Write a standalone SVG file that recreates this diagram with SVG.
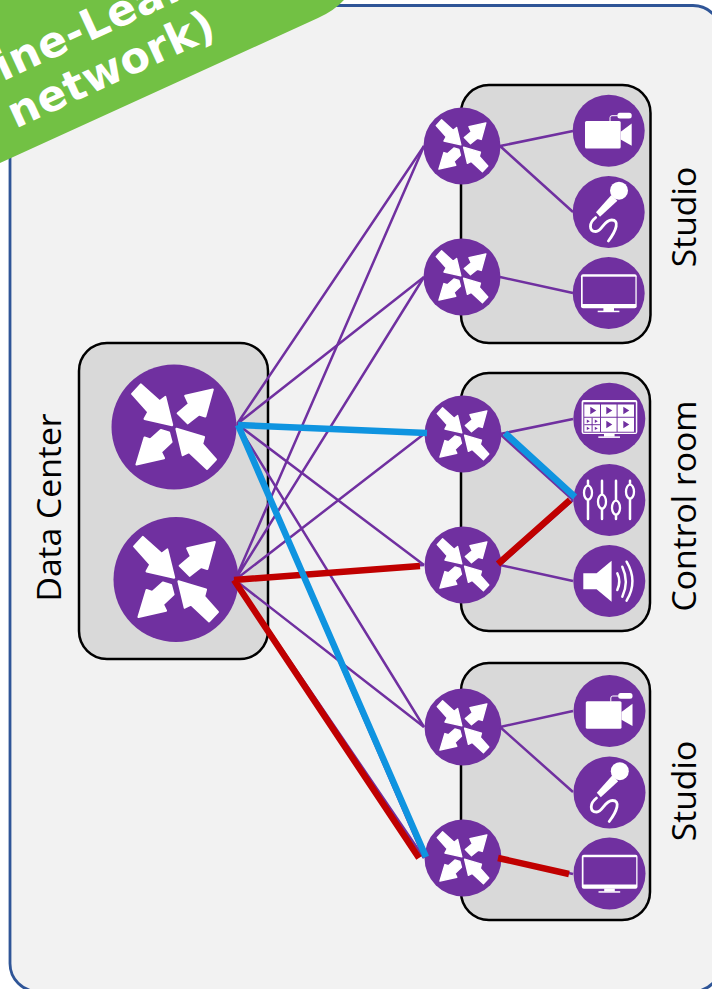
<svg xmlns="http://www.w3.org/2000/svg" width="712" height="989" viewBox="0 0 712 989">
<style>
.panel{fill:#D9D9D9;stroke:#000;stroke-width:2.5}
.disc{fill:#7030A0}
.arr{fill:#fff;stroke:#fff;stroke-width:3.500;stroke-linejoin:round}
.w{fill:#fff}
.ws{fill:none;stroke:#fff;stroke-linecap:round}
.p{fill:#7030A0}
.lbl{font-family:"Open Sans",sans-serif;font-size:33.700px;fill:#000}
.ttl{font-family:"DejaVu Sans",sans-serif;font-size:43px;font-weight:bold;fill:#fff;letter-spacing:.5px}
.c{stroke:#7030A0;stroke-width:2.5;fill:none}
.b{stroke:#0F94E0;stroke-width:6.500;fill:none}
.r{stroke:#C00000;stroke-width:6.500;fill:none}
</style>
<defs>
<g id="arrows" class="arr">
<polygon points="-67,-53 -53,-68 -23,-41 -14,-48 -3,-3 -47,-13 -41,-24"/>
<polygon points="62,-60 18,-50 24,-37 6,-22 22,-6 40,-20 50,-17"/>
<polygon points="-60,60 -16,50 -21,40 -4,24 -8,9 -21,5 -38,20 -47,17"/>
<polygon points="53,67 67,52 45,27 48,16 4,3 14,45 24,40"/>
</g>
<g id="router"><circle r="100" class="disc"/><use href="#arrows"/></g>
<g id="screen">
<circle r="36" class="disc"/>
<rect x="-27.7" y="-18.7" width="55.7" height="34" rx="2" class="w"/>
<rect x="-5.3" y="15" width="10.6" height="3" class="w"/>
<rect x="-11" y="17.7" width="21.7" height="1.5" class="w"/>
</g>
<g id="camera"><circle r="36" class="disc"/>
<rect x="-23.700" y="-9.700" width="35.700" height="27.400" rx="1.500" class="w"/>
<polygon points="12,1 23,-7.300 23,15 12,8.700" class="w"/>
<rect x="8.700" y="-18" width="14.300" height="5.700" rx="2.500" class="w"/>
<path d="M1.300,-9.700V-13q0,-2 2,-2H8.700" class="ws" stroke-width="1"/></g>
<g id="mic"><circle r="36" class="disc"/>
<circle cx="10.300" cy="-21.300" r="9" class="w"/>
<polygon points="2.700,-17 8.700,-11.300 -8.700,4.700 -12.700,.3" class="w"/>
<path d="M-13,5.500C-20,11 -20,19 -13,19.500C-7,20 -5,8 3,8C11,8 8,18 -.3,29" class="ws" stroke-width="2.800"/></g>
</defs>
<rect x="10" y="5.500" width="711" height="986" rx="28" fill="#F2F2F2" stroke="#2F5597" stroke-width="2.800"/>
<g id="banner">
<path d="M0,163 L318,18 Q338,9 348,-5 L0,-5 Z" fill="#72C144"/>
<g transform="rotate(-24.7 15 127)">
<text class="ttl" x="15" y="129">network)</text>
<text class="ttl" x="-60" y="80.500">(Spine-Leaf</text>
</g>
</g>
<g id="panel-dc"><rect class="panel" x="79" y="343" width="189" height="316" rx="28"/><text class="lbl" transform="translate(61 507.500) rotate(-90)" text-anchor="middle">Data Center</text></g>
<g id="panel-studio-1"><rect class="panel" x="461" y="85" width="189.500" height="258" rx="28"/><text class="lbl" transform="translate(696 217) rotate(-90)" text-anchor="middle">Studio</text></g>
<g id="panel-control"><rect class="panel" x="461" y="373" width="189" height="258" rx="28"/><text class="lbl" transform="translate(696 506) rotate(-90)" text-anchor="middle">Control room</text></g>
<g id="panel-studio-2"><rect class="panel" x="461" y="663" width="189" height="257" rx="28"/><text class="lbl" transform="translate(696 791) rotate(-90)" text-anchor="middle">Studio</text></g>
<g id="dc-router-1"><use href="#router" transform="translate(174 427) scale(.625)"/></g>
<g id="dc-router-2"><use href="#router" transform="translate(176 579.500) scale(.625)"/></g>
<g id="leaf-1"><use href="#router" transform="translate(462 146) scale(.385)"/></g>
<g id="leaf-2"><use href="#router" transform="translate(462 277) scale(.385)"/></g>
<g id="leaf-3"><use href="#router" transform="translate(463 434) scale(.385)"/></g>
<g id="leaf-4"><use href="#router" transform="translate(463 565) scale(.385)"/></g>
<g id="leaf-5"><use href="#router" transform="translate(463 727) scale(.385)"/></g>
<g id="leaf-6"><use href="#router" transform="translate(463 858) scale(.385)"/></g>
<g id="device-camera-1"><use href="#camera" x="608.700" y="130.700"/></g>
<g id="device-mic-1"><use href="#mic" x="608.700" y="212"/></g>
<g id="device-monitor-1"><use href="#screen" x="608.700" y="293"/><rect x="582.700" y="276.700" width="52.700" height="27.300" class="p"/></g>
<g id="device-wall" transform="translate(609.300 418.700)"><use href="#screen"/>
<rect x="-26" y="-16.500" width="52.500" height="30.500" class="p"/>
<path class="w" d="M-25,-14.300H-9.300V-2H-25ZM-8.300,-14.300H7.300V-2H-8.300ZM8.300,-14.300H24.700V-2H8.300ZM-25,-1H-9.300V13H-25ZM-8.300,-1H7.300V13H-8.300ZM8.300,-1H24.700V13H8.300Z"/>
<path class="p" d="M-19,-12V-4.500L-13,-8.200ZM-3,-12V-4.500L3,-8.200ZM14,-12V-4.500L20,-8.200ZM-3,2V9.500L3,5.800ZM14,2V9.500L20,5.800Z"/>
<path d="M-17.200,-1V13M-25,6H-9.300" stroke="#7030A0" stroke-width="1"/>
<path class="p" d="M-22.500,.8V4.200L-19.500,2.500ZM-14.500,.8V4.200L-11.500,2.500ZM-22.500,8V11.400L-19.500,9.700ZM-14.500,8V11.400L-11.500,9.700Z"/></g>
<g id="device-mixer" transform="translate(609.300 500)"><circle r="36" class="disc"/>
<path class="ws" stroke-width="2.500" d="M-21.300,-19.300V19M-7.300,-19.300V19M6.700,-19.300V19M20.700,-19.300V19"/>
<g fill="#7030A0" stroke="#fff" stroke-width="2.300"><ellipse cx="-21.300" cy="-7.300" rx="4" ry="7"/><ellipse cx="-7.300" cy="1.700" rx="4" ry="7"/><ellipse cx="6.700" cy="7.700" rx="4" ry="7"/><ellipse cx="20.700" cy="-8.300" rx="4" ry="7"/></g></g>
<g id="device-speaker" transform="translate(609.300 581)"><circle r="36" class="disc"/>
<polygon class="w" points="-26,-7.700 -12.700,-7.700 2.300,-20.300 2.300,20.700 -12.700,8.300 -26,8.300"/>
<path class="ws" stroke-width="2.500" d="M8,-7.700Q12,.5 8,9M13,-14.300Q20,.5 13,15.700M17.300,-19.300Q29,.5 17.300,19.700"/></g>
<g id="device-camera-2"><use href="#camera" x="609.500" y="711"/></g>
<g id="device-mic-2"><use href="#mic" x="609.500" y="792.500"/></g>
<g id="device-monitor-2"><use href="#screen" x="609.500" y="873.500"/><rect x="583.500" y="857.200" width="52.700" height="27.300" class="p"/></g>
<g id="connectors">
<g class="c">
<path d="M237,424L424,146M237,424L424,277M237,424L424,434M237,424L424,565M237,424L424,727M237,424L424,858"/>
<path d="M235,580L424,146M235,580L424,277M235,580L424,434M235,580L424,565M235,580L424,727M235,580L424,858"/>
<path d="M500,146L573,131M500,146L573,212M500,277L573,293M500,434L573,419M500,434L573,500M500,565L573,500M500,565L573,581"/>
<path d="M500,727L573,711M500,727L573,792M500,858L573,874"/>
</g>
<path class="r" d="M234,580L420,566M234,580L419,858M498,564L570,500M498,858L569,874"/>
<path class="b" d="M238,425L427,433M238,425L426,857M505,433L575,497"/>
</g>
</svg>
